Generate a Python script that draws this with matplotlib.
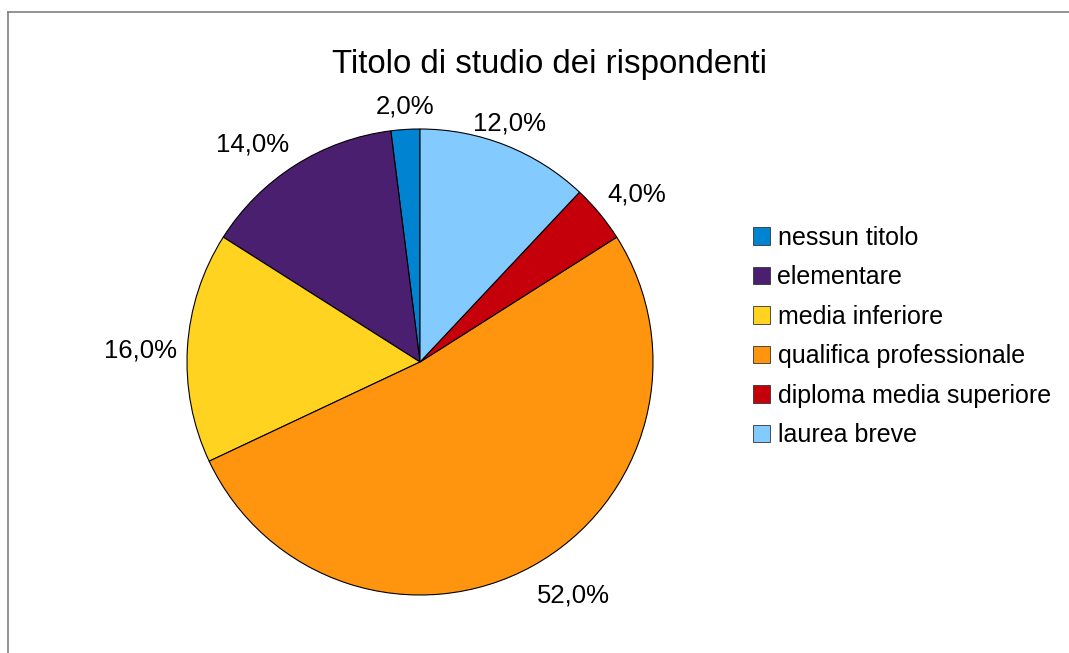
import matplotlib
matplotlib.use('Agg')
import numpy as np
from matplotlib import pyplot as plt
from matplotlib.lines import Line2D

categories = ['nessun titolo', 'elementare', 'media inferiore',
              'qualifica professionale', 'diploma media superiore', 'laurea breve']
values = [2.0, 14.0, 16.0, 52.0, 4.0, 12.0]
colors = ['#0084d1', '#4b1f6f', '#ffd320', '#ff950e', '#c5000b', '#83caff']
title = 'Titolo di studio dei rispondenti'

plt.rcParams['font.family'] = ['Liberation Sans', 'DejaVu Sans']

def fmt_pct(p):
    return ('%.1f%%' % p).replace('.', ',')

fig = plt.figure(figsize=(10.69, 6.53), dpi=100)

# frame of the chart area (only top and left edges are visible)
fig.add_artist(Line2D([8 / 1069, 8 / 1069], [0, 1 - 11.5 / 653], transform=fig.transFigure,
                      color='#808080', lw=1.2))
fig.add_artist(Line2D([8 / 1069, 1], [1 - 11.5 / 653, 1 - 11.5 / 653], transform=fig.transFigure,
                      color='#808080', lw=1.2))

ax = fig.add_axes([187 / 1069, 58 / 653, 466 / 1069, 466 / 653])
wedges, _ = ax.pie(values, colors=colors, startangle=90, counterclock=True, radius=1,
                   wedgeprops=dict(edgecolor='black', linewidth=0.8))
ax.set_xlim(-1, 1)
ax.set_ylim(-1, 1)
ax.set_aspect('equal')

# data labels, placed like office charts: box corner at a fixed offset from the rim
total = sum(values)
d = 1.045
for w, v in zip(wedges, values):
    mid = (w.theta1 + w.theta2) / 2.0
    c, s = np.cos(np.radians(mid)), np.sin(np.radians(mid))
    a = mid % 180
    if abs(a - 90) <= 22.5:
        ha = 'center'
    else:
        ha = 'left' if c > 0 else 'right'
    dy = 0
    if a <= 22.5 or a >= 157.5:
        va = 'center'
        dy = -3
    elif s > 0:
        va = 'bottom'
    else:
        va = 'top'
        dy = -6
    ax.annotate(fmt_pct(100.0 * v / total), (d * c, d * s), xytext=(0, dy),
                textcoords='offset points', ha=ha, va=va, fontsize=18.5,
                annotation_clip=False)

fig.text(549 / 1069, 1 - 73 / 653, title, ha='center', va='baseline', fontsize=23.8)

leg = fig.legend(wedges, categories, loc='center left',
                 bbox_to_anchor=(753 / 1069, 1 - 336.5 / 653),
                 frameon=False, fontsize=18, handlelength=0.68, handleheight=0.68,
                 handletextpad=0.3, labelspacing=0.62, borderpad=0, borderaxespad=0)
for h in leg.legend_handles:
    h.set_edgecolor('#333333')
    h.set_linewidth(0.6)

fig.savefig('out.png', dpi=100)
